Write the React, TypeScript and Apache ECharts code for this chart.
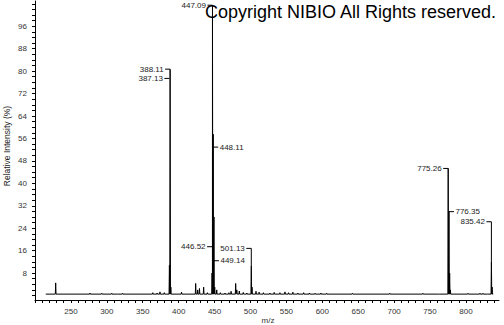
import React, { useEffect, useRef } from "react";
import * as echarts from "echarts";

// Spectrum peaks: m/z and relative intensity (%)
const peakMz = [
  228.8, 276.6, 293, 306.8, 315, 322, 364, 370, 374, 380,
  387.13, 388.11, 389.1,
  404, 423.7, 426.5, 429, 434.8, 440,
  446.52, 447.09, 448.11, 449.14, 450.2,
  453, 458, 464.5, 470, 473, 479.4, 481, 484.4, 490, 495,
  501.13, 502.1,
  507.7, 512, 518, 527, 533, 541, 548, 553, 559, 566, 574, 582, 590, 598, 606, 642, 694, 740, 762,
  775.26, 776.35, 777.3, 778.3,
  803, 819.5, 823.7, 830,
  835.42, 836.4,
];
const peakIntensity = [
  4.5, 0.9, 0.8, 0.8, 0.7, 0.8, 1.0, 0.9, 1.3, 1.0,
  10.8, 80.6, 3,
  1.2, 4.3, 2.0, 2.5, 3.0, 1.0,
  8, 100, 57.5, 28, 3,
  2.0, 1.0, 0.9, 1.0, 1.5, 4.3, 2, 1.6, 1.1, 0.9,
  10.5, 3,
  1.5, 1.2, 1.0, 0.9, 1.1, 1.0, 1.3, 1.0, 1.2, 0.9, 1.0, 0.9, 0.8, 0.9, 0.8, 0.8, 0.8, 0.8, 0.7,
  45.3, 30, 8, 2,
  0.8, 0.8, 0.8, 0.7,
  12, 3,
];
const baselineLevel = 0.5;
const spectrumStart = 215;
const spectrumEnd = 838;

// Peak annotations
const labelTexts = ["447.09", "388.11", "387.13", "448.11", "446.52", "449.14", "501.13", "775.26", "776.35", "835.42"];
const labelMz = [447.09, 388.11, 387.13, 448.11, 446.52, 449.14, 501.13, 775.26, 776.35, 835.42];
const labelLevel = [103.5, 80.7, 77.4, 52.9, 17.4, 12.4, 16.8, 45.3, 29.9, 26.3];
const labelPeak = [100, 80.6, 77.4, 52.9, 17.4, 12.4, 10.5, 45.3, 29.9, 12];
const labelSide = [0, 0, 0, 1, 0, 1, 0, 0, 1, 0]; // 0 = text left of the peak, 1 = right

const xTicks = [
  200, 210, 220, 230, 240, 250, 260, 270, 280, 290, 300, 310, 320, 330, 340, 350, 360, 370, 380, 390,
  400, 410, 420, 430, 440, 450, 460, 470, 480, 490, 500, 510, 520, 530, 540, 550, 560, 570, 580, 590,
  600, 610, 620, 630, 640, 650, 660, 670, 680, 690, 700, 710, 720, 730, 740, 750, 760, 770, 780, 790,
  800, 810, 820, 830, 840,
];
const xLabels = [250, 300, 350, 400, 450, 500, 550, 600, 650, 700, 750, 800];
const yTicks = [
  0, 2, 4, 6, 8, 10, 12, 14, 16, 18, 20, 22, 24, 26, 28, 30, 32, 34, 36, 38, 40, 42, 44, 46, 48, 50,
  52, 54, 56, 58, 60, 62, 64, 66, 68, 70, 72, 74, 76, 78, 80, 82, 84, 86, 88, 90, 92, 94, 96, 98, 100, 102, 104,
];
const yLabels = [8, 16, 24, 32, 40, 48, 56, 64, 72, 80, 88, 96];

const FONT = "'Liberation Sans', Arial, sans-serif";

export default function App() {
  const ref = useRef<HTMLDivElement>(null);
  useEffect(() => {
    if (!ref.current) return;
    const chart = echarts.init(ref.current, undefined, { renderer: "svg" });

    const line: number[][] = [[spectrumStart, baselineLevel]];
    peakMz.forEach((mz, i) => {
      line.push([mz - 0.5, baselineLevel]);
      line.push([mz, peakIntensity[i]]);
      line.push([mz + 0.5, baselineLevel]);
    });
    line.push([spectrumEnd, baselineLevel]);

    const labels = labelMz.map((mz, i) => [mz, labelLevel[i], labelPeak[i], labelSide[i], i]);

    chart.setOption({
      animation: false,
      backgroundColor: "#fff",
      grid: { left: 35, right: 5, top: 1, bottom: 25 },
      xAxis: {
        type: "value",
        min: 200,
        max: 846,
        axisLine: { show: true, onZero: false, lineStyle: { color: "#000", width: 1 } },
        axisTick: { show: true, customValues: xTicks, length: 3, lineStyle: { color: "#000" } },
        axisLabel: { customValues: xLabels, margin: 7, fontSize: 8, color: "#333", fontFamily: FONT },
        splitLine: { show: false },
      },
      yAxis: {
        type: "value",
        min: -1.6,
        max: 105,
        axisLine: { show: true, onZero: false, lineStyle: { color: "#000", width: 1 } },
        axisTick: { show: true, customValues: yTicks, length: 3, lineStyle: { color: "#000" } },
        axisLabel: { customValues: yLabels, margin: 8, fontSize: 8, color: "#333", fontFamily: FONT },
        splitLine: { show: false },
      },
      graphic: [
        {
          type: "text",
          x: 7,
          y: 146,
          rotation: Math.PI / 2,
          style: { text: "Relative Intensity (%)", align: "center", verticalAlign: "middle", fontSize: 8.5, fill: "#222", fontFamily: FONT },
        },
        {
          type: "text",
          x: 268,
          y: 320,
          style: { text: "m/z", align: "center", verticalAlign: "middle", fontSize: 8, fill: "#333", fontFamily: FONT },
        },
        {
          type: "text",
          x: 205,
          y: 3,
          z: 100,
          style: { text: "Copyright NIBIO All Rights reserved.", align: "left", verticalAlign: "top", fontSize: 18, fill: "#000", fontFamily: FONT },
        },
      ],
      series: [
        {
          type: "line",
          data: line,
          symbol: "none",
          lineStyle: { color: "#000", width: 1 },
          z: 2,
        },
        {
          type: "custom",
          data: labels,
          z: 3,
          renderItem: (params: any, api: any) => {
            const mz = api.value(0);
            const lv = api.value(1);
            const pk = api.value(2);
            const side = api.value(3);
            const idx = api.value(4);
            const p = api.coord([mz, lv]);
            const b = api.coord([mz, pk]);
            const dir = side === 1 ? 1 : -1;
            const tickEnd = p[0] + dir * 5;
            const children: any[] = [
              {
                type: "line",
                shape: { x1: p[0], y1: p[1], x2: tickEnd, y2: p[1] },
                style: { stroke: "#000", lineWidth: 1 },
              },
              {
                type: "text",
                x: tickEnd + dir * 1.5,
                y: p[1],
                style: {
                  text: labelTexts[idx],
                  align: side === 1 ? "left" : "right",
                  verticalAlign: "middle",
                  fontSize: 8,
                  fill: "#222",
                  fontFamily: FONT,
                },
              },
            ];
            if (lv > pk) {
              children.push({
                type: "line",
                shape: { x1: p[0], y1: p[1], x2: b[0], y2: b[1] },
                style: { stroke: "#000", lineWidth: 1 },
              });
            }
            return { type: "group", children };
          },
        },
      ],
    });
    return () => chart.dispose();
  }, []);
  return (
    <div style={{ position: "absolute", left: 0, top: 0 }}>
      <div ref={ref} style={{ width: 504, height: 325 }} />
    </div>
  );
}
